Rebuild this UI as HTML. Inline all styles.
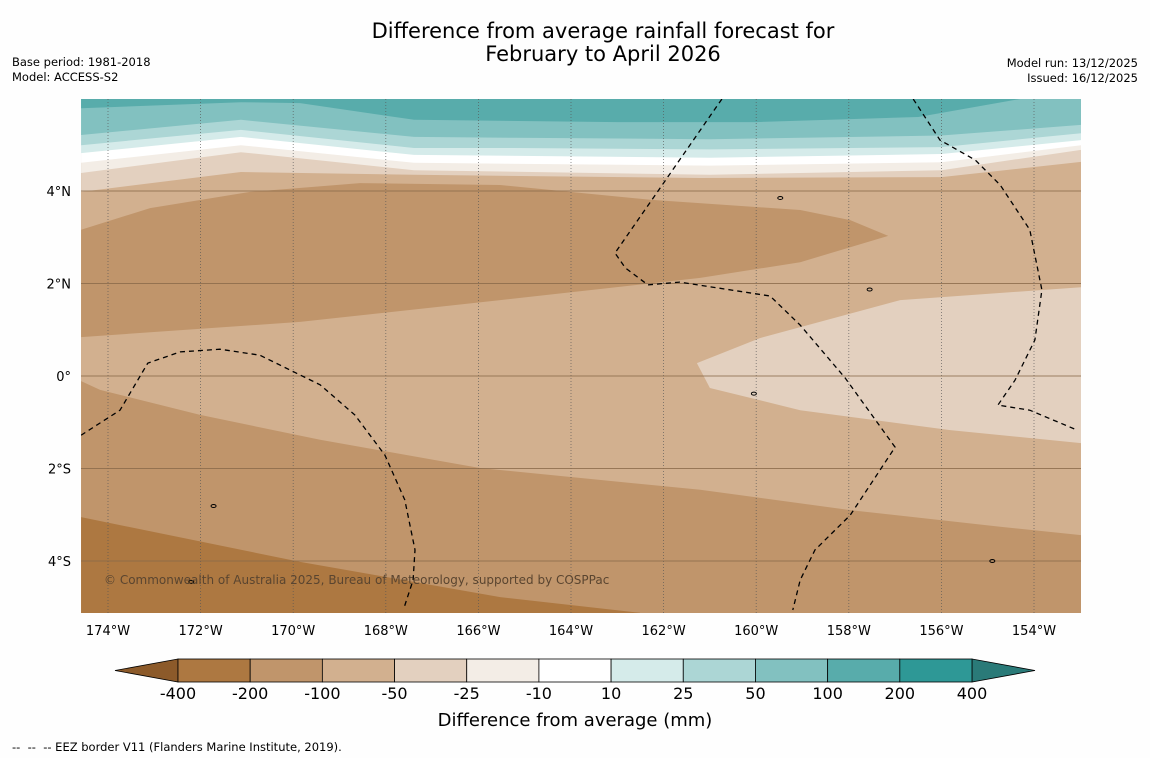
<!DOCTYPE html>
<html><head><meta charset="utf-8">
<style>
body{margin:0;background:#fefefe;font-family:"DejaVu Sans","Liberation Sans",sans-serif;}
#wrap{position:relative;width:1150px;height:758px;overflow:hidden;}
svg text{font-family:"DejaVu Sans","Liberation Sans",sans-serif;}
</style></head>
<body>
<div id="wrap">
<svg id="chart" width="1150" height="758" xmlns="http://www.w3.org/2000/svg">
<text x="603" y="38" text-anchor="middle" font-size="21" fill="#000">Difference from average rainfall forecast for</text>
<text x="603" y="61" text-anchor="middle" font-size="21" fill="#000">February to April 2026</text>
<text x="12" y="66" font-size="11.5">Base period: 1981-2018</text>
<text x="12" y="81" font-size="11.5">Model: ACCESS-S2</text>
<text x="1138" y="67" font-size="11.5" text-anchor="end">Model run: 13/12/2025</text>
<text x="1138" y="82" font-size="11.5" text-anchor="end">Issued: 16/12/2025</text>
<defs><clipPath id="mapclip"><rect x="81" y="99" width="1000" height="514"/></clipPath></defs>
<g id="map" clip-path="url(#mapclip)"></g>
<g id="axes"></g>
<g id="cbar"></g>
<text x="575" y="726" text-anchor="middle" font-size="18">Difference from average (mm)</text>
<text x="12" y="751" font-size="11.5" xml:space="preserve" style="white-space:pre">--  --  -- EEZ border V11 (Flanders Marine Institute, 2019).</text>
</svg>
</div>
<script>
// ---- data ----
const lonTicks=[-174,-172,-170,-168,-166,-164,-162,-160,-158,-156,-154];
const lonTickLabels=["174°W","172°W","170°W","168°W","166°W","164°W","162°W","160°W","158°W","156°W","154°W"];
const latTicks=[4,2,0,-2,-4];
const latTickLabels=["4°N","2°N","0°","2°S","4°S"];
const cbLevels=["-400","-200","-100","-50","-25","-10","10","25","50","100","200","400"];
const cbColors=["#ad7841","#c0956b","#d2b08f","#e3d0bf","#f3ede6","#ffffff","#d5ebea","#acd6d5","#82c1c0","#58acab","#2e9896"];
const cbExtLow="#8c5a2a", cbExtHigh="#2a7a78";
const c100=[[-174.58,5.79],[-171.13,5.92],[-169.85,5.9],[-167.39,5.54],[-163,5.49],[-160,5.49],[-156.5,5.6],[-154.3,5.99]];
const c50=[[-174.58,5.21],[-171.13,5.54],[-167.39,5.17],[-165.23,5.15],[-161,5.12],[-156,5.2],[-152.98,5.43]];
const c25=[[-174.58,4.99],[-171.13,5.32],[-167.39,4.93],[-165.23,4.93],[-161,4.9],[-156,4.95],[-152.98,5.25]];
const c10=[[-174.58,4.82],[-171.13,5.17],[-167.39,4.78],[-161,4.72],[-156,4.8],[-152.98,5.1]];
const cm10=[[-174.58,4.61],[-171.13,4.99],[-167.39,4.61],[-161,4.55],[-156,4.62],[-152.98,4.99]];
const cm25=[[-174.58,4.39],[-171.13,4.84],[-167.39,4.45],[-161,4.35],[-156,4.45],[-152.98,4.89]];
const cm50=[[-174.58,3.98],[-171.13,4.41],[-167.39,4.35],[-161.21,4.28],[-156,4.3],[-152.98,4.63]];
const tongue=[[-174.58,3.16],[-173.09,3.63],[-170.93,3.98],[-168.56,4.17],[-165.53,4.13],[-162.29,3.81],[-159.05,3.59],[-157.97,3.37],[-157.15,3.03],[-159.05,2.46],[-161.21,2.12],[-165.53,1.64],[-169.85,1.17],[-174.58,0.84]];
const cs100=[[-174.58,-0.11],[-174.17,-0.3],[-172.01,-0.84],[-169.42,-1.38],[-165.97,-1.99],[-161.21,-2.46],[-157.97,-2.9],[-154.73,-3.26],[-152.98,-3.44]];
const cs200=[[-174.58,-3.05],[-169.85,-4.02],[-165.53,-4.78],[-162.51,-5.12]];
const patch=[[-152.98,1.92],[-156.89,1.64],[-159.92,0.82],[-161.28,0.28],[-161.0,-0.26],[-159.05,-0.74],[-155.81,-1.17],[-152.98,-1.45]];
const eezA=[[-160.74,5.99],[-163.05,2.66],[-162.83,2.34],[-162.34,1.97],[-161.65,2.03],[-159.7,1.73],[-159.05,1.1],[-158.08,-0.04],[-157.0,-1.54],[-157.97,-3.01],[-158.73,-3.76],[-159.05,-4.41],[-159.21,-5.06]];
const eezB=[[-156.61,5.99],[-156.03,5.1],[-155.27,4.67],[-154.73,4.13],[-154.09,3.16],[-153.83,1.86],[-153.98,0.78],[-154.41,-0.09],[-154.78,-0.63],[-154.09,-0.74],[-153.07,-1.17]];
const eezC=[[-174.58,-1.28],[-173.74,-0.74],[-173.14,0.28],[-172.44,0.52],[-171.58,0.58],[-170.72,0.45],[-169.42,-0.19],[-168.67,-0.84],[-168.02,-1.71],[-167.59,-2.68],[-167.37,-3.76],[-167.41,-4.41],[-167.61,-5.02]];
const islands=[[-171.72,-2.81],[-159.48,3.85],[-157.55,1.87],[-154.9,-4.0],[-172.2,-4.45],[-160.05,-0.38]];

// ---- axis functions ----
const X=lon=>108+(lon+174)*46.3;
const Y=lat=>376-lat*46.25;
const NS="http://www.w3.org/2000/svg";
function mk(tag,attrs,parent){const e=document.createElementNS(NS,tag);for(const k in attrs)e.setAttribute(k,attrs[k]);parent.appendChild(e);return e;}
const pts=a=>a.map(p=>X(p[0]).toFixed(1)+","+Y(p[1]).toFixed(1)).join(" ");
const map=document.getElementById('map');
let e=mk('rect',{x:81,y:99,width:1000,height:514,fill:cbColors[2]},map);


function north(c,col,name){const a=[[c[0][0],7]].concat(c,[[c[c.length-1][0],7]]);const p=mk('polygon',{points:pts(a),fill:col},map);

}
function south(c,col,name){const a=[[c[0][0],-7]].concat(c,[[c[c.length-1][0],-7]]);const p=mk('polygon',{points:pts(a),fill:col},map);

}
north(cm50,cbColors[3],'band-minus50-minus25');
north(cm25,cbColors[4],'band-minus25-minus10');
north(cm10,cbColors[5],'band-minus10-10');
north(c10,cbColors[6],'band-10-25');
north(c25,cbColors[7],'band-25-50');
north(c50,cbColors[8],'band-50-100');
north(c100,cbColors[9],'band-100-200');
e=mk('polygon',{points:pts(tongue),fill:cbColors[1]},map);


south(cs100,cbColors[1],'band-minus200-minus100-south');
south(cs200,cbColors[0],'band-minus400-minus200');
e=mk('polygon',{points:pts(patch),fill:cbColors[3]},map);


lonTicks.forEach(l=>{const g=mk('line',{x1:X(l),x2:X(l),y1:99,y2:613,stroke:'#555','stroke-width':0.8,'stroke-dasharray':'1,2',opacity:0.8},map);

});
latTicks.forEach(l=>{const g=mk('line',{x1:81,x2:1081,y1:Y(l),y2:Y(l),stroke:'#8a6a4a','stroke-width':1,opacity:0.8},map);

});
[eezA,eezB,eezC].forEach(a=>{const l=mk('polyline',{points:pts(a),fill:'none',stroke:'#000','stroke-width':1.3,'stroke-dasharray':'5,4'},map);

});
islands.forEach(p=>{const c=mk('ellipse',{cx:X(p[0]),cy:Y(p[1]),rx:2.5,ry:1.5,fill:'none',stroke:'#000','stroke-width':1},map);

});
const cr=mk('text',{x:104,y:584,'font-size':12,fill:'#5a4530'},map);
cr.textContent="© Commonwealth of Australia 2025, Bureau of Meteorology, supported by COSPPac";


const axes=document.getElementById('axes');
lonTicks.forEach((l,i)=>{const t=mk('text',{x:X(l),y:635,'text-anchor':'middle','font-size':13},axes);t.textContent=lonTickLabels[i];

});
latTicks.forEach((l,i)=>{const t=mk('text',{x:71,y:Y(l)+5,'text-anchor':'end','font-size':13},axes);t.textContent=latTickLabels[i];

});
const cb=document.getElementById('cbar');
const cx0=178,cx1=972,cy0=659,cy1=682,cw=(cx1-cx0)/cbColors.length;
e=mk('polygon',{points:`${cx0},${cy0} 115,${(cy0+cy1)/2} ${cx0},${cy1}`,fill:cbExtLow,stroke:'#000','stroke-width':0.8},cb);


e=mk('polygon',{points:`${cx1},${cy0} 1035,${(cy0+cy1)/2} ${cx1},${cy1}`,fill:cbExtHigh,stroke:'#000','stroke-width':0.8},cb);


cbColors.forEach((c,i)=>{const r=mk('rect',{x:cx0+i*cw,y:cy0,width:cw,height:cy1-cy0,fill:c,stroke:'#000','stroke-width':0.8},cb);

});
cbLevels.forEach((s,i)=>{const t=mk('text',{x:cx0+i*cw,y:699,'text-anchor':'middle','font-size':16},cb);t.textContent=s;

});
</script>
</body></html>
